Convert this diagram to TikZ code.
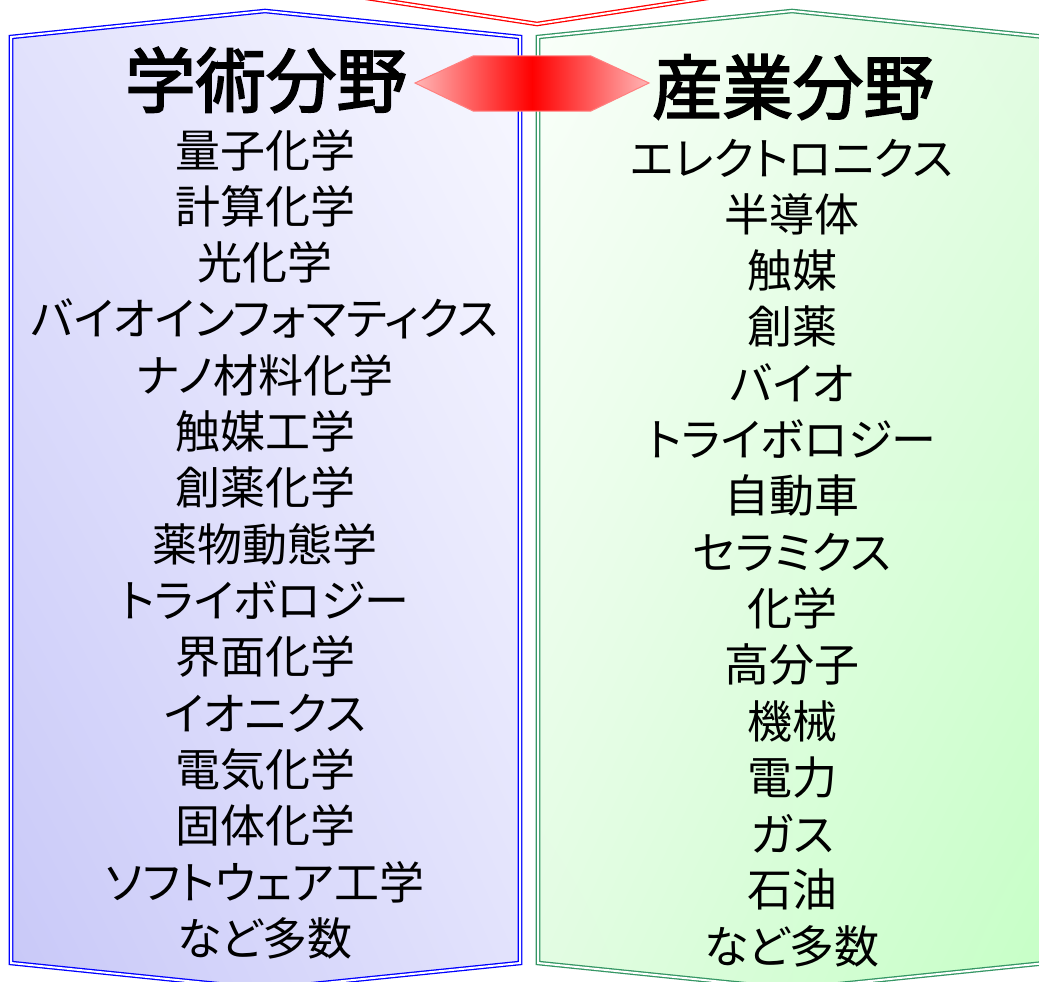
\documentclass[tikz,border=0pt]{standalone}
\usepackage{fontspec}
\usetikzlibrary{shadings}
\newfontfamily\jp[RawFeature=+palt]{Noto Sans CJK JP}
\newfontfamily\jptitle[FakeBold=2.5]{Noto Sans CJK JP}
\definecolor{panelblue}{RGB}{0,0,255}
\definecolor{panelgreen}{RGB}{52,150,100}
\definecolor{blueA}{RGB}{200,200,248}
\definecolor{blueB}{RGB}{226,226,252}
\definecolor{blueC}{RGB}{248,248,255}
\definecolor{greenA}{RGB}{198,255,198}
\definecolor{greenB}{RGB}{226,252,226}
\definecolor{greenC}{RGB}{250,255,250}
\definecolor{arrowtip}{RGB}{255,182,182}
\definecolor{arrowedge}{RGB}{255,128,128}
\begin{document}
\begin{tikzpicture}[x=1pt,y=-1pt,
  frame/.style={double=white,double distance=2pt,line width=1.3pt,line join=miter},
  item/.style={inner sep=0pt,font=\jp\fontsize{45}{46}\selectfont},
  title/.style={inner sep=0pt,font=\jptitle\fontsize{70.5}{72}\selectfont}]
\useasboundingbox (0,0) rectangle (1039,982);
\clip (0,0) rectangle (1039,982);
% left panel
\shade[lower left=blueA,upper right=blueC,upper left=blueB,lower right=blueB]
  (11,37) -- (265,11) -- (520,37) -- (520,963) -- (265,989) -- (11,963) -- cycle;
\draw[frame,panelblue] (11,37) -- (265,11) -- (520,37) -- (520,963) -- (265,989) -- (11,963) -- cycle;
% right panel
\shade[upper left=greenC,lower right=greenA,upper right=greenB,lower left=greenB]
  (538,37) -- (792,11) -- (1046,37) -- (1046,963) -- (792,989) -- (538,963) -- cycle;
\draw[frame,panelgreen] (538,37) -- (792,11) -- (1046,37) -- (1046,963) -- (792,989) -- (538,963) -- cycle;
% red top shape
\draw[frame,red] (230,-23) -- (537,24) -- (844,-23);
% double arrow
\shade[left color=arrowtip,right color=arrowtip,middle color=red]
  (415,83) -- (473,56) -- (591,56) -- (649,83) -- (591,111) -- (473,111) -- cycle;
\draw[arrowedge,line width=1pt,line join=miter]
  (415,83) -- (473,56) -- (591,56) -- (649,83) -- (591,111) -- (473,111) -- cycle;
% titles
\node[title] (tl) at (266,80) {学術分野};
\node[title] (tr) at (793,87) {産業分野};
% left items
\foreach \t [count=\i] in {量子化学,計算化学,光化学,バイオインフォマティクス,ナノ材料化学,触媒工学,創薬化学,薬物動態学,トライボロジー,界面化学,イオニクス,電気化学,固体化学,ソフトウェア工学,など多数}
  \node[item] (L\i) at (265,{150+(\i-1)*56.3}) {\t};
% right items
\foreach \t [count=\i] in {エレクトロニクス,半導体,触媒,創薬,バイオ,トライボロジー,自動車,セラミクス,化学,高分子,機械,電力,ガス,石油,など多数}
  \node[item] (R\i) at (792,{158+(\i-1)*56.3}) {\t};
\end{tikzpicture}
\end{document}
